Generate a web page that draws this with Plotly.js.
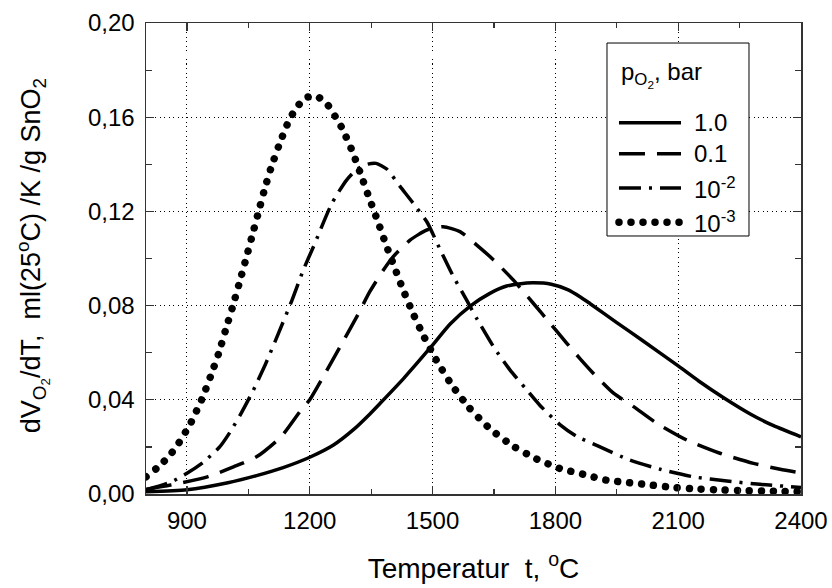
<!DOCTYPE html>
<html>
<head>
<meta charset="utf-8">
<script src="https://cdn.plot.ly/plotly-3.0.1.min.js"></script>
<style>
  html, body { margin: 0; padding: 0; background: #fff; }
  #chart { width: 832px; height: 588px; }
</style>
</head>
<body>
<div id="chart"></div>
<script>
// ---- Data (temperature in °C, dV/dT in ml/K/g) ----
const seriesNames = ['1.0', '0.1', '10<sup>-2</sup>', '10<sup>-3</sup>'];

// pO2 = 1.0 bar (solid)
const t_p1 = [800, 900, 1000, 1070, 1135, 1200, 1258, 1306, 1347, 1372, 1429, 1494, 1543, 1592, 1640, 1681, 1710, 1745, 1790, 1830, 1860, 1885, 1950, 2011, 2100, 2150, 2210, 2276, 2333, 2400];
const v_p1 = [0.001, 0.0018, 0.0048, 0.0078, 0.0112, 0.0156, 0.0208, 0.0272, 0.0340, 0.0385, 0.0490, 0.0620, 0.0722, 0.0798, 0.0852, 0.0883, 0.0892, 0.0897, 0.0891, 0.0868, 0.0838, 0.0808, 0.0728, 0.0654, 0.0544, 0.0480, 0.0410, 0.0340, 0.0290, 0.0243];

// pO2 = 0.1 bar (dashed)
const t_p01 = [800, 860, 950, 1015, 1070, 1130, 1176, 1200, 1233, 1274, 1315, 1347, 1380, 1404, 1445, 1486, 1526, 1567, 1608, 1649, 1697, 1746, 1787, 1828, 1860, 1893, 1942, 1991, 2048, 2121, 2202, 2284, 2349, 2400];
const v_p01 = [0.002, 0.0038, 0.0073, 0.0116, 0.0158, 0.0243, 0.035, 0.040, 0.0498, 0.0625, 0.0753, 0.0860, 0.0951, 0.1008, 0.1078, 0.1121, 0.1135, 0.1114, 0.1057, 0.0994, 0.0909, 0.081, 0.0725, 0.064, 0.0575, 0.0512, 0.0428, 0.0371, 0.030, 0.0229, 0.0173, 0.013, 0.0105, 0.009];

// pO2 = 1e-2 bar (dash-dot)
const t_p001 = [800, 860, 900, 940, 980, 1005, 1030, 1062, 1091, 1123, 1156, 1184, 1209, 1254, 1290, 1315, 1340, 1362, 1388, 1421, 1453, 1486, 1518, 1551, 1583, 1608, 1649, 1689, 1730, 1763, 1811, 1852, 1905, 1982, 2056, 2137, 2219, 2300, 2400];
const v_p001 = [0.0017, 0.005, 0.0088, 0.0135, 0.020, 0.0262, 0.0335, 0.0440, 0.0548, 0.068, 0.082, 0.095, 0.105, 0.1234, 0.1333, 0.1378, 0.1400, 0.1404, 0.1380, 0.1305, 0.1234, 0.1156, 0.1040, 0.0923, 0.0824, 0.0745, 0.0625, 0.0527, 0.0442, 0.0375, 0.0295, 0.0245, 0.0203, 0.0144, 0.0105, 0.0073, 0.0055, 0.0041, 0.0028];

// pO2 = 1e-3 bar (dotted)
const t_p0001 = [800, 828, 855, 877, 910, 937, 958, 978, 995, 1012, 1028, 1044, 1059, 1074, 1089, 1106, 1126, 1149, 1165, 1188, 1216, 1244, 1262, 1279, 1304, 1325, 1345, 1366, 1386, 1407, 1429, 1453, 1479, 1509, 1544, 1587, 1641, 1697, 1754, 1810, 1868, 1924, 1981, 2038, 2094, 2151, 2208, 2265, 2322, 2400];
const v_p0001 = [0.0073, 0.0112, 0.0158, 0.0208, 0.0304, 0.0405, 0.0501, 0.060, 0.070, 0.0798, 0.0896, 0.0997, 0.1095, 0.1192, 0.129, 0.1388, 0.1486, 0.1585, 0.1633, 0.1681, 0.169, 0.1652, 0.1604, 0.1553, 0.1455, 0.1356, 0.1258, 0.1159, 0.106, 0.0963, 0.0863, 0.0764, 0.0668, 0.0569, 0.0471, 0.0371, 0.0276, 0.0203, 0.0149, 0.0109, 0.0084, 0.0059, 0.0048, 0.0037, 0.0027, 0.0021, 0.0017, 0.0014, 0.0012, 0.001];

const xTickVals = [900, 1200, 1500, 1800, 2100, 2400];
const yTickVals = [0, 0.04, 0.08, 0.12, 0.16, 0.20];
const yTickText = ['0,00', '0,04', '0,08', '0,12', '0,16', '0,20'];

const xTitle = 'Temperatur\u00a0\u00a0t, <sup>o</sup>C';
const yTitle = 'dV<sub>O<sub>2</sub></sub>/dT,\u00a0\u00a0ml(25<sup>o</sup>C) /K /g SnO<sub>2</sub>';
const legendTitle = 'p<sub>O<sub>2</sub></sub>, bar';

// ---- Styles ----
const FONT = '"Liberation Sans", Arial, Helvetica, sans-serif';
const dashStyles = ['solid', '26px,12px', '22px,8px,3px,8px', '0.01px,12px'];
const widths = [3.5, 3.5, 3.5, 7.5];
const xs = [t_p1, t_p01, t_p001, t_p0001];
const ys = [v_p1, v_p01, v_p001, v_p0001];

const traces = xs.map((x, i) => ({
  x: x, y: ys[i], type: 'scatter', mode: 'lines',
  name: seriesNames[i], showlegend: false,
  line: { color: '#000', width: widths[i], dash: dashStyles[i], shape: 'spline', smoothing: 0.6 },
  hoverinfo: 'skip'
}));

// manual legend (paper coords)
const legX0 = 0.7038, legX1 = 0.9206, legY0 = 0.5478, legY1 = 0.9575;
const legRowY = [0.7883, 0.7226, 0.6497, 0.5768];
const symX0 = 0.7221, symX1 = 0.8168, txtX = 0.8336;

const shapes = [{
  type: 'rect', xref: 'paper', yref: 'paper', x0: legX0, x1: legX1, y0: legY0, y1: legY1,
  line: { color: '#000', width: 1 }, fillcolor: '#fff', layer: 'above'
}];
const annotations = [{
  xref: 'paper', yref: 'paper', x: 0.7221, y: 0.8900, xanchor: 'left', yanchor: 'middle',
  text: legendTitle, showarrow: false, font: { family: FONT, size: 24, color: '#000' }
}, {
  // y axis title
  xref: 'paper', yref: 'paper', x: -0.174, y: 0.505, xanchor: 'center', yanchor: 'middle',
  textangle: -90, text: yTitle, showarrow: false, font: { family: FONT, size: 27, color: '#000' }
}];
seriesNames.forEach((n, i) => {
  shapes.push({
    type: 'line', xref: 'paper', yref: 'paper', x0: symX0, x1: symX1, y0: legRowY[i], y1: legRowY[i],
    line: { color: '#000', width: widths[i], dash: dashStyles[i] }, layer: 'above'
  });
  annotations.push({
    xref: 'paper', yref: 'paper', x: txtX, y: legRowY[i], xanchor: 'left', yanchor: 'middle',
    text: n, showarrow: false, font: { family: FONT, size: 24, color: '#000' }
  });
});

const axisCommon = {
  showline: true, linecolor: '#333', linewidth: 1.5, mirror: 'ticks',
  ticks: 'inside', ticklen: 8, tickwidth: 1.2, tickcolor: '#333',
  showgrid: true, gridcolor: '#000', gridwidth: 1, griddash: '1px,3.5px',
  zeroline: false, tickfont: { family: FONT, size: 24, color: '#000' }
};

const layout = {
  width: 832, height: 588,
  margin: { l: 146, r: 31, t: 23, b: 94 },
  paper_bgcolor: '#fff', plot_bgcolor: '#fff',
  font: { family: FONT, color: '#000' },
  showlegend: false,
  xaxis: Object.assign({}, axisCommon, {
    range: [800, 2400], tickmode: 'array', tickvals: xTickVals, ticklabelstandoff: 5,
    minor: { tickmode: 'linear', tick0: 750, dtick: 150, ticks: 'inside', ticklen: 5, tickcolor: '#333', showgrid: false },
    title: { text: xTitle, font: { family: FONT, size: 28, color: '#000' }, standoff: 25 }
  }),
  yaxis: Object.assign({}, axisCommon, {
    range: [0, 0.2], tickmode: 'array', tickvals: yTickVals, ticktext: yTickText, ticklabelstandoff: 5,
    minor: { tickmode: 'linear', tick0: 0, dtick: 0.02, ticks: 'inside', ticklen: 6, tickcolor: '#333', showgrid: false }
  }),
  shapes: shapes,
  annotations: annotations
};

Plotly.newPlot('chart', traces, layout, { staticPlot: true, displayModeBar: false }).then(() => {
  const tr = document.querySelectorAll('.scatterlayer .trace');
  if (tr[3]) tr[3].querySelectorAll('path.js-line').forEach(p => { p.style.strokeLinecap = 'round'; });
  const sh = document.querySelectorAll('.shapelayer path');
  if (sh.length) { const last = sh[sh.length - 1]; last.style.strokeLinecap = 'round'; }
});
</script>
</body>
</html>
